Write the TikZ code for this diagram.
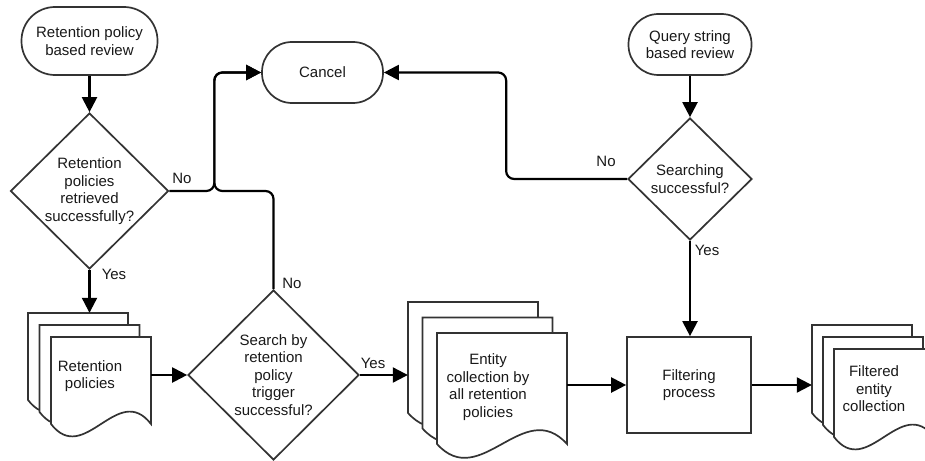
\documentclass[tikz,border=0pt]{standalone}
\usepackage{fontspec}
\setmainfont{Liberation Sans}
\usetikzlibrary{arrows.meta,shapes.geometric}

% one page of a document stack: #1,#2 top-left corner, #3 width,
% #4 height of the straight sides, #5 control offset of the wavy bottom
\newcommand\stackpage[5]{%
  \draw[docpage, shift={(#1,#2)}] (0,0) -- (#3,0) -- (#3,#4)
    .. controls ({2*#3/3},{#4-#5}) and ({#3/3},{#4+#5}) .. (0,#4) -- cycle;}

\begin{document}
\begin{tikzpicture}[x=1pt,y=-1pt,
  every node/.style={font=\fontsize{15}{17.5}\selectfont, text=black!90},
  shapeline/.style={draw=black!80, line width=1.7pt, fill=white},
  terminal/.style={shapeline, rectangle, inner sep=0pt, align=center},
  decision/.style={shapeline, diamond, inner sep=0pt, align=center},
  process/.style={shapeline, rectangle, inner sep=0pt, align=center},
  docpage/.style={shapeline, line join=miter},
  stackbox/.style={rectangle, inner sep=0pt, draw=none},
  stacktext/.style={align=center, inner sep=0pt},
  flow/.style={draw=black, line width=2.2pt, rounded corners=8pt,
    -{Triangle[length=15pt,width=15pt]}},
  answer/.style={inner sep=0pt},
]
\useasboundingbox (0,0) rectangle (925,460);
\fill[white] (0,0) rectangle (925,460);

% start / end terminals
\node[terminal, minimum width=136, minimum height=68, rounded corners=33.5pt]
  (rpstart) at (89.5,41) {Retention policy\\based review};
\node[terminal, minimum width=121, minimum height=61, rounded corners=30pt]
  (cancel) at (322.5,72.5) {Cancel};
\node[terminal, minimum width=123, minimum height=61, rounded corners=30pt]
  (qsstart) at (690,44.5) {Query string\\based review};

% decisions
\node[decision, minimum width=158, minimum height=156]
  (rpok) at (89.5,191) {Retention\\policies\\retrieved\\successfully?};
\node[decision, minimum width=124, minimum height=122]
  (qsok) at (690,179) {Searching\\successful?};
\node[decision, minimum width=171, minimum height=170]
  (trigok) at (273.5,375) {Search by\\retention\\policy\\trigger\\successful?};

% process
\node[process, minimum width=124, minimum height=96]
  (filter) at (689,385) {Filtering\\process};

% document stacks
\stackpage{28}{313}{100}{87}{43}
\stackpage{39.5}{325}{100}{87}{43}
\stackpage{51}{337}{100}{87}{43}
\node[stackbox, minimum width=123, minimum height=124] (retpol) at (89.5,375) {};
\node[stacktext] (retpoltext) at (90,376) {Retention\\policies};

\stackpage{408}{302}{130}{111}{48}
\stackpage{422.5}{317.5}{130}{111}{48}
\stackpage{437}{333}{130}{111}{48}
\node[stackbox, minimum width=159, minimum height=156] (entity) at (487.5,380) {};
\node[stacktext] (entitytext) at (488,387) {Entity\\collection by\\all retention\\policies};

\stackpage{812}{325}{100}{88}{43}
\stackpage{823}{337}{100}{88}{43}
\stackpage{834}{349}{100}{88}{43}
\node[stackbox, minimum width=122, minimum height=124] (filtered) at (873,387) {};
\node[stacktext] (filteredtext) at (874,389) {Filtered\\entity\\collection};

% connectors
\draw[flow] (rpstart.south) -- (rpok.north);
\draw[flow] (rpok.south) -- (retpol.north);
\draw[flow] (retpol.east) -- (trigok.west);
\draw[flow] (trigok.east) -- (trigok.east -| entity.west);
\draw[flow] (filter.west -| entity.east) -- (filter.west);
\draw[flow] (filter.east) -- (filter.east -| filtered.west);
\draw[flow] (qsstart.south) -- (qsok.north);
\draw[flow] (qsok.south) -- (qsok.south |- filter.north);
\draw[flow] (rpok.east) -- ++(45,0) |- (cancel.west);
\draw[flow] (trigok.north) |- ([xshift=45pt]rpok.east) |- (cancel.west);
\draw[flow] (qsok.west) -- ++(-121,0) |- (cancel.east);

% branch labels
\node[answer] (rpno) at (182,178) {No};
\node[answer] (rpyes) at (114,274) {Yes};
\node[answer] (trigno) at (292,283) {No};
\node[answer] (trigyes) at (373,363) {Yes};
\node[answer] (qsno) at (606,161) {No};
\node[answer] (qsyes) at (707,250) {Yes};
\end{tikzpicture}
\end{document}
